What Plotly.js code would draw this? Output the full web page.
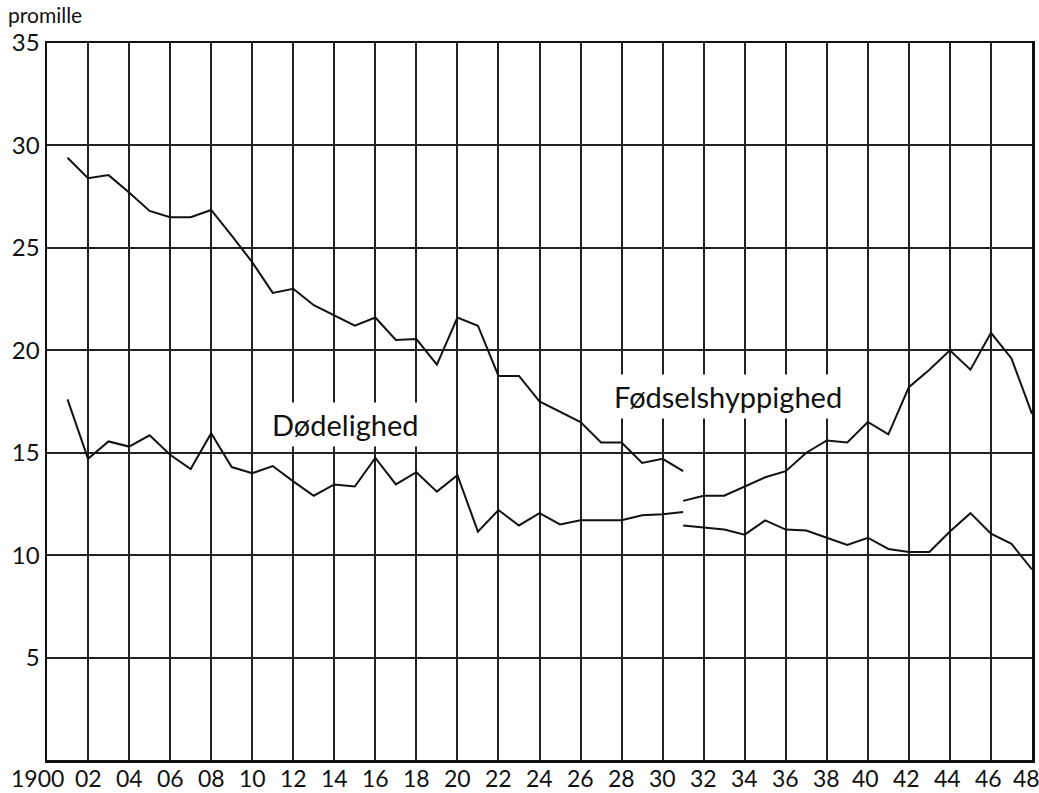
<!DOCTYPE html>
<html>
<head>
<meta charset="utf-8">
<script src="https://cdn.plot.ly/plotly-3.0.1.min.js"></script>
<style>
  html, body { margin: 0; padding: 0; background: #fff; }
  #chart { width: 1039px; height: 793px; }
</style>
</head>
<body>
<div id="chart"></div>
<script>
// Segment 1: 1901-1931
const years1 = [1901,1902,1903,1904,1905,1906,1907,1908,1909,1910,1911,1912,1913,1914,1915,1916,1917,1918,1919,1920,1921,1922,1923,1924,1925,1926,1927,1928,1929,1930,1931];
const birth1 = [29.4,28.4,28.55,27.7,26.8,26.5,26.5,26.85,25.6,24.3,22.8,23.0,22.2,21.7,21.2,21.6,20.5,20.55,19.3,21.6,21.2,18.75,18.75,17.5,17.0,16.5,15.5,15.5,14.5,14.7,14.1];
const death1 = [17.6,14.7,15.55,15.3,15.85,14.9,14.2,15.95,14.3,14.0,14.35,13.6,12.9,13.45,13.35,14.75,13.45,14.05,13.1,13.9,11.15,12.2,11.45,12.05,11.5,11.7,11.7,11.7,11.95,12.0,12.1];
// Segment 2: 1931-1948
const years2 = [1931,1932,1933,1934,1935,1936,1937,1938,1939,1940,1941,1942,1943,1944,1945,1946,1947,1948];
const birth2 = [12.65,12.9,12.9,13.35,13.8,14.1,15.0,15.6,15.5,16.5,15.9,18.2,19.05,20.0,19.05,20.85,19.6,16.9];
const death2 = [11.45,11.35,11.25,11.0,11.7,11.25,11.2,10.85,10.5,10.85,10.3,10.15,10.15,11.15,12.05,11.05,10.55,9.3];

const tickYears = [1900,1902,1904,1906,1908,1910,1912,1914,1916,1918,1920,1922,1924,1926,1928,1930,1932,1934,1936,1938,1940,1942,1944,1946,1948];
const tickText = ["1900","02","04","06","08","10","12","14","16","18","20","22","24","26","28","30","32","34","36","38","40","42","44","46","48"];
const yTicks = [5,10,15,20,25,30,35];
const yTickText = ["5","10","15","20","25","30","35"];

const labelDeath = "Dødelighed";
const labelBirth = "Fødselshyppighed";
const unitLabel = "promille";

const lineStyle = {color: "#111", width: 2};
const traces = [
  {x: years1, y: birth1, mode: "lines", line: lineStyle, hoverinfo: "skip"},
  {x: years1, y: death1, mode: "lines", line: lineStyle, hoverinfo: "skip"},
  {x: years2, y: birth2, mode: "lines", line: lineStyle, hoverinfo: "skip"},
  {x: years2, y: death2, mode: "lines", line: lineStyle, hoverinfo: "skip"}
];

const FONT = "Lato, 'Noto Sans', 'DejaVu Sans', sans-serif";
const ML = 47, MR = 7, MT = 43, MB = 33, W = 1039, H = 793;

// x tick labels as annotations (so the end labels are not dropped or overlapping)
const xLabelAnns = tickYears.map((yr, i) => ({
  text: tickText[i], x: yr, y: 0, xref: "x", yref: "paper",
  xanchor: "center", yanchor: "top", yshift: -2,
  xshift: i === 0 ? -10 : (i === tickYears.length - 1 ? -6 : (yr >= 1940 ? -2 : 0)),
  showarrow: false,
  font: {family: FONT, size: 23, color: "#111"}
}));

const layout = {
  width: W,
  height: H,
  margin: {l: ML, r: MR, t: MT, b: MB},
  paper_bgcolor: "#fff",
  plot_bgcolor: "#fff",
  showlegend: false,
  font: {family: FONT, color: "#111", size: 22},
  xaxis: {
    range: [1900, 1948],
    tickmode: "array",
    tickvals: tickYears,
    ticktext: tickText,
    showticklabels: false,
    automargin: false,
    ticks: "",
    showgrid: true,
    gridcolor: "#222",
    gridwidth: 2,
    showline: true,
    linecolor: "#111",
    linewidth: 2.5,
    mirror: true,
    zeroline: false,
    fixedrange: true
  },
  yaxis: {
    range: [0, 35],
    tickmode: "array",
    tickvals: yTicks,
    ticktext: yTickText,
    automargin: false,
    ticks: "",
    showgrid: true,
    gridcolor: "#222",
    gridwidth: 2,
    showline: true,
    linecolor: "#111",
    linewidth: 2.5,
    mirror: true,
    zeroline: false,
    ticklabelstandoff: 0,
    tickfont: {family: FONT, size: 24, color: "#111"},
    fixedrange: true
  },
  annotations: [
    {
      text: labelDeath, x: 1914.5, y: 16.4, xref: "x", yref: "y",
      showarrow: false, bgcolor: "#fff", borderpad: 4,
      font: {family: FONT, size: 29, color: "#111"}
    },
    {
      text: labelBirth, x: 1933.2, y: 17.75, xref: "x", yref: "y",
      showarrow: false, bgcolor: "#fff", borderpad: 4,
      font: {family: FONT, size: 29, color: "#111"}
    },
    {
      text: unitLabel,
      x: (6 - ML) / (W - ML - MR), y: 1 + (MT - 14) / (H - MT - MB),
      xref: "paper", yref: "paper",
      xanchor: "left", yanchor: "middle", showarrow: false,
      font: {family: FONT, size: 21, color: "#111"}
    }
  ].concat(xLabelAnns)
};

Plotly.newPlot("chart", traces, layout, {staticPlot: true, displayModeBar: false});
</script>
</body>
</html>
